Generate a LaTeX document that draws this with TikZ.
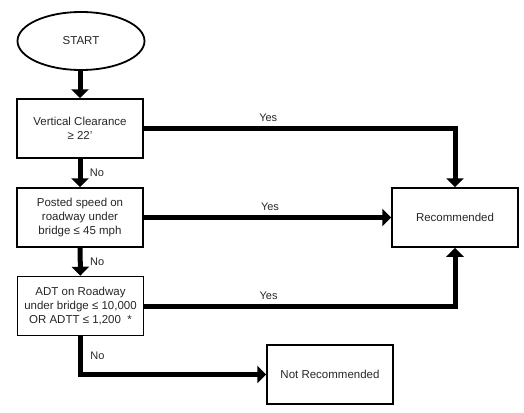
\documentclass[tikz,border=0pt]{standalone}
\usepackage{fontspec}
\setmainfont{Liberation Sans}
\usepackage{tikz}
\usetikzlibrary{positioning}
\usetikzlibrary{shapes.geometric, arrows.meta}

\tikzset{
  decision/.style={align=center, rectangle, draw, line width=1.5pt, minimum width=126pt, minimum height=59pt, inner sep=1pt, text=black!85},
  flow/.style={line width=5pt, -{Triangle[width=17pt,length=9pt]}},
  lbl/.style={text=black!85, font=\fontsize{11}{13}\selectfont}
}

\begin{document}
\begin{tikzpicture}[x=1pt, y=-1pt, font=\fontsize{11.5}{14.3}\selectfont]
            \useasboundingbox (0,0) rectangle (524,412);
            \node (start) at (81,41) [ellipse, draw, line width=1.8pt, minimum width=127pt, minimum height=58pt, text=black!85]{START};
            \node (vc) at (80,128.5) [decision]{Vertical Clearance\\≥ 22’};
            \node (ps) at (80,217.5) [decision]{Posted speed on\\roadway under\\bridge ≤ 45 mph};
            \node (adt) at (80.5,306) [decision]{ADT on Roadway\\under bridge ≤ 10,000\\OR ADTT ≤ 1,200 \ *};
            \node (rec) at (455,217.5) [decision]{Recommended};
            \node (notrec) at (330,374.5) [decision]{Not Recommended};

            \draw[flow] (start.south -| vc.north) -- (vc);
            \draw[flow] (vc) -- node [right, lbl, xshift=4pt]{No} (ps);
            \draw[flow] (ps) -- node [right, lbl, xshift=4pt]{No} (adt);
            \draw[flow] (adt.south) |- node [pos=0.25, right, lbl, xshift=4pt]{No} (notrec.west);
            \draw[flow] (vc.east) -| node [pos=0.2, above, lbl, yshift=1pt]{Yes} (rec.north);
            \draw[flow] (ps) -- node [pos=0.51, above, lbl, yshift=1pt]{Yes} (rec);
            \draw[flow] (adt.east) -| node [pos=0.2, above, lbl, yshift=1pt]{Yes} (rec.south);

        \end{tikzpicture}
\end{document}
